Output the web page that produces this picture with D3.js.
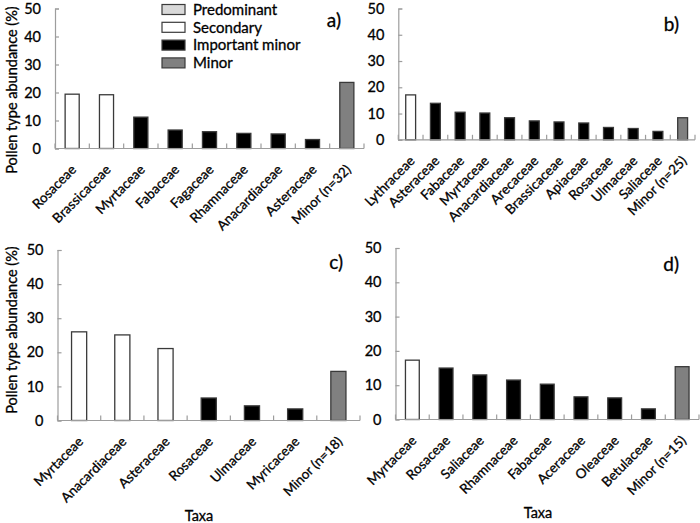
<!DOCTYPE html>
<html>
<head>
<meta charset="utf-8">
<script src="https://cdn.jsdelivr.net/npm/d3@7"></script>
<style>
  html, body { margin: 0; padding: 0; background: #fff; }
  svg { display: block; font-family: Lato, "Open Sans", sans-serif; }
  svg text { stroke: #000; stroke-width: 0.3px; paint-order: stroke; }
</style>
</head>
<body>
<svg id="chart" width="700" height="523"></svg>
<script>
// ---------- DATA ----------
const legendLabels = ["Predominant", "Secondary", "Important minor", "Minor"];
const yTickValues = [0, 10, 20, 30, 40, 50];

const taxaA = ["Rosaceae", "Brassicaceae", "Myrtaceae", "Fabaceae", "Fagaceae", "Rhamnaceae", "Anacardiaceae", "Asteraceae", "Minor (n=32)"];
const valuesA = [19.4, 19.2, 11.2, 6.6, 6.0, 5.4, 5.2, 3.2, 23.6];
const typesA = ["Secondary", "Secondary", "Important minor", "Important minor", "Important minor", "Important minor", "Important minor", "Important minor", "Minor"];

const taxaB = ["Lythraceae", "Asteraceae", "Fabaceae", "Myrtaceae", "Anacardiaceae", "Arecaceae", "Brassicaceae", "Apiaceae", "Rosaceae", "Ulmaceae", "Saliaceae", "Minor (n=25)"];
const valuesB = [17.1, 13.9, 10.5, 10.2, 8.4, 7.2, 6.8, 6.4, 4.7, 4.3, 3.2, 8.4];
const typesB = ["Secondary", "Important minor", "Important minor", "Important minor", "Important minor", "Important minor", "Important minor", "Important minor", "Important minor", "Important minor", "Important minor", "Minor"];

const taxaC = ["Myrtaceae", "Anacardiaceae", "Asteraceae", "Rosaceae", "Ulmaceae", "Myricaceae", "Minor (n=18)"];
const valuesC = [26.0, 25.1, 21.1, 6.6, 4.3, 3.4, 14.4];
const typesC = ["Secondary", "Secondary", "Secondary", "Important minor", "Important minor", "Important minor", "Minor"];

const taxaD = ["Myrtaceae", "Rosaceae", "Saliaceae", "Rhamnaceae", "Fabaceae", "Aceraceae", "Oleaceae", "Betulaceae", "Minor (n=15)"];
const valuesD = [17.3, 15.0, 13.0, 11.5, 10.3, 6.6, 6.3, 3.1, 15.4];
const typesD = ["Secondary", "Important minor", "Important minor", "Important minor", "Important minor", "Important minor", "Important minor", "Important minor", "Minor"];

const panelLetters = ["a)", "b)", "c)", "d)"];
const yAxisTitle = "Pollen type abundance (%)";
const xAxisTitle = "Taxa";

// ---------- STYLE / LAYOUT ----------
const fills = { "Predominant": "#d9d9d9", "Secondary": "#ffffff", "Important minor": "#000000", "Minor": "#808080" };
const axisColor = "#9d9d9d";
const barStroke = "#3a3a3a";

const panels = [
  { taxa: taxaA, values: valuesA, types: typesA, letter: panelLetters[0], x0: 55, x1: 364, yZero: 148.5, yTop: 8.5, pad: 0.59, letterX: 341, letterY: 27, yTitle: 90, xTitle: null },
  { taxa: taxaB, values: valuesB, types: typesB, letter: panelLetters[1], x0: 398.3, x1: 695, yZero: 139.8, yTop: 8.5, pad: 0.6, letterX: 679, letterY: 31, yTitle: null, xTitle: null },
  { taxa: taxaC, values: valuesC, types: typesC, letter: panelLetters[2], x0: 57.5, x1: 360, yZero: 420.5, yTop: 250, pad: 0.65, letterX: 343, letterY: 269, yTitle: 330, xTitle: { x: 199, y: 521 } },
  { taxa: taxaD, values: valuesD, types: typesD, letter: panelLetters[3], x0: 395.5, x1: 699, yZero: 419.5, yTop: 248, pad: 0.59, letterX: 679, letterY: 271, yTitle: null, xTitle: { x: 538, y: 518 } }
];

const svg = d3.select("#chart");

panels.forEach(p => {
  const g = svg.append("g");
  const x = d3.scaleBand().domain(p.taxa).range([p.x0, p.x1]).paddingInner(p.pad).paddingOuter(p.pad / 2);
  const y = d3.scaleLinear().domain([0, 50]).range([p.yZero, p.yTop]);

  // y axis
  const yAxis = d3.axisLeft(y).tickValues(yTickValues).tickSize(-4).tickPadding(14);
  const ya = g.append("g").attr("transform", `translate(${p.x0},0)`).call(yAxis);
  ya.select(".domain").attr("stroke", axisColor).attr("stroke-width", 1.2);
  ya.selectAll(".tick line").attr("stroke", axisColor).attr("stroke-width", 1.2);
  ya.selectAll(".tick text").attr("fill", "#000").style("font-size", "14.5px").style("font-family", "Lato, sans-serif");

  // bars
  g.selectAll("rect.bar").data(p.taxa).enter().append("rect")
    .attr("class", "bar")
    .attr("x", d => x(d))
    .attr("width", x.bandwidth())
    .attr("y", (d, i) => y(p.values[i]))
    .attr("height", (d, i) => y(0) - y(p.values[i]))
    .attr("fill", (d, i) => fills[p.types[i]])
    .attr("stroke", barStroke)
    .attr("stroke-width", 1.3);

  // x axis line + boundary ticks
  g.append("line").attr("x1", p.x0).attr("x2", p.x1).attr("y1", y(0)).attr("y2", y(0))
    .attr("stroke", axisColor).attr("stroke-width", 1.2);
  const bounds = d3.range(p.taxa.length + 1).map(i => p.x0 + i * (p.x1 - p.x0) / p.taxa.length);
  g.selectAll("line.xt").data(bounds).enter().append("line")
    .attr("x1", d => d).attr("x2", d => d)
    .attr("y1", y(0)).attr("y2", y(0) - 5)
    .attr("stroke", axisColor).attr("stroke-width", 1.2);

  // category labels
  g.selectAll("text.cat").data(p.taxa).enter().append("text")
    .attr("class", "cat")
    .attr("transform", d => `translate(${x(d) + x.bandwidth() / 2 + 5},${y(0) + 22}) rotate(-45)`)
    .attr("text-anchor", "end")
    .style("font-size", "13.5px")
    .attr("fill", "#000")
    .text(d => d);

  // panel letter
  g.append("text").attr("x", p.letterX).attr("y", p.letterY).attr("text-anchor", "end")
    .style("font-size", "19px").attr("fill", "#000").text(p.letter);

  if (p.yTitle !== null) {
    g.append("text").attr("transform", `translate(17,${p.yTitle}) rotate(-90)`)
      .attr("text-anchor", "middle").style("font-size", "14.5px").attr("fill", "#000").text(yAxisTitle);
  }
  if (p.xTitle) {
    g.append("text").attr("x", p.xTitle.x).attr("y", p.xTitle.y).attr("text-anchor", "middle")
      .style("font-size", "14.5px").attr("fill", "#000").text(xAxisTitle);
  }
});

// legend
const legend = svg.append("g");
legendLabels.forEach((lab, i) => {
  const cy = 9.5 + i * 17.8;
  legend.append("rect").attr("x", 162).attr("y", cy - 5).attr("width", 23).attr("height", 10)
    .attr("fill", fills[lab]).attr("stroke", barStroke).attr("stroke-width", 1.2);
  legend.append("text").attr("x", 193).attr("y", cy).attr("dy", "0.35em")
    .style("font-size", "15px").attr("fill", "#000").text(lab);
});
</script>
</body>
</html>
